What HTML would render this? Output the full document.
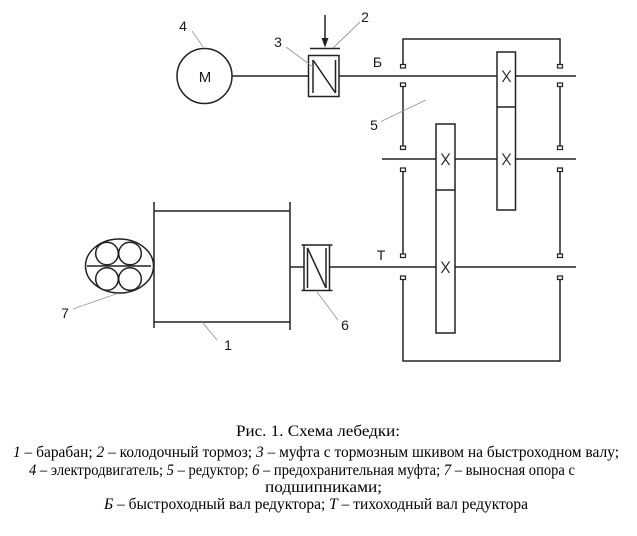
<!DOCTYPE html>
<html><head><meta charset="utf-8"><style>
html,body{margin:0;padding:0;background:#fff;}
svg{display:block;}
</style></head><body>
<svg width="637" height="536" viewBox="0 0 637 536" xmlns="http://www.w3.org/2000/svg">
<g stroke="#222" stroke-width="1.5" fill="none">
  <!-- motor -->
  <circle cx="204.5" cy="76" r="27.5"/>
  <line x1="232" y1="76" x2="309" y2="76"/>
  <!-- coupling 3 -->
  <rect x="308.5" y="55.5" width="30.5" height="41"/>
  <line x1="313" y1="60" x2="313" y2="93"/>
  <line x1="313" y1="60" x2="335.5" y2="93"/>
  <line x1="335.5" y1="60" x2="335.5" y2="93"/>
  <line x1="310" y1="48.5" x2="340" y2="48.5"/>
  <line x1="325" y1="15" x2="325" y2="41"/>
  <!-- shaft B -->
  <line x1="339" y1="76" x2="576" y2="76"/>
  <!-- middle shaft -->
  <line x1="382" y1="159" x2="576" y2="159"/>
  <!-- shaft T -->
  <line x1="290" y1="267" x2="304" y2="267"/>
  <line x1="329.5" y1="267" x2="576" y2="267"/>
  <!-- drum -->
  <line x1="154" y1="202" x2="154" y2="328"/>
  <line x1="290" y1="202" x2="290" y2="330"/>
  <line x1="154" y1="211" x2="290" y2="211"/>
  <line x1="154" y1="322" x2="290" y2="322"/>
  <!-- support 7 -->
  <ellipse cx="119.5" cy="266" rx="34" ry="27"/>
  <line x1="87" y1="266" x2="151" y2="266"/>
  <circle cx="107" cy="253.5" r="11.3"/>
  <circle cx="130" cy="253.5" r="11.3"/>
  <circle cx="107" cy="279" r="11.3"/>
  <circle cx="130" cy="279" r="11.3"/>
  <!-- coupling 6 -->
  <line x1="301.5" y1="245" x2="332.5" y2="245"/>
  <line x1="301.5" y1="290.5" x2="332.5" y2="290.5"/>
  <line x1="304" y1="245" x2="304" y2="290.5"/>
  <line x1="329.5" y1="245" x2="329.5" y2="290.5"/>
  <line x1="307.5" y1="248" x2="307.5" y2="288"/>
  <line x1="307.5" y1="248" x2="326" y2="288"/>
  <line x1="326" y1="248" x2="326" y2="288"/>
  <!-- housing frame -->
  <polyline points="403,64 403,39 560,39 560,64"/>
  <polyline points="403,279 403,361 560,361 560,279"/>
  <line x1="403" y1="86" x2="403" y2="146"/>
  <line x1="560" y1="86" x2="560" y2="146"/>
  <line x1="403" y1="171" x2="403" y2="254"/>
  <line x1="560" y1="171" x2="560" y2="254"/>
</g>
<!-- arrowhead -->
<polygon points="321.5,38 328.5,38 325,47.5" fill="#222"/>
<!-- bearings -->
<g stroke="#222" stroke-width="1.2" fill="#fff">
  <rect x="400.5" y="64.5" width="5" height="3.5"/>
  <rect x="400.5" y="83" width="5" height="3.5"/>
  <rect x="557.5" y="64.5" width="5" height="3.5"/>
  <rect x="557.5" y="83" width="5" height="3.5"/>
  <rect x="400.5" y="146" width="5" height="3.5"/>
  <rect x="400.5" y="168" width="5" height="3.5"/>
  <rect x="557.5" y="146" width="5" height="3.5"/>
  <rect x="557.5" y="168" width="5" height="3.5"/>
  <rect x="400.5" y="254" width="5" height="3.5"/>
  <rect x="400.5" y="276" width="5" height="3.5"/>
  <rect x="557.5" y="254" width="5" height="3.5"/>
  <rect x="557.5" y="276" width="5" height="3.5"/>
</g>
<!-- gears -->
<g stroke="#222" stroke-width="1.5" fill="#fff">
  <rect x="497" y="52" width="18.5" height="158"/>
  <rect x="436" y="124" width="19" height="209"/>
</g>
<g stroke="#222" stroke-width="1.5">
  <line x1="497" y1="107" x2="515.5" y2="107"/>
  <line x1="436" y1="190" x2="455" y2="190"/>
</g>
<g stroke="#222" stroke-width="1.1">
  <path d="M502.5 70.5 L510.5 82 M510.5 70.5 L502.5 82"/>
  <path d="M502.5 153.5 L510.5 165 M510.5 153.5 L502.5 165"/>
  <path d="M441.5 153.5 L449.5 165 M449.5 153.5 L441.5 165"/>
  <path d="M441.5 261.5 L449.5 273 M449.5 261.5 L441.5 273"/>
</g>
<!-- leader lines -->
<g stroke="#999" stroke-width="0.9">
  <line x1="192" y1="31" x2="203" y2="47"/>
  <line x1="286" y1="47" x2="313" y2="67"/>
  <line x1="360" y1="22" x2="333" y2="48"/>
  <line x1="381" y1="121.5" x2="426" y2="100"/>
  <line x1="73" y1="309" x2="116" y2="294"/>
  <line x1="202" y1="322" x2="217" y2="340"/>
  <line x1="317" y1="292" x2="338" y2="320"/>
</g>
<!-- labels -->
<g font-family="Liberation Sans, sans-serif" font-size="14" fill="#1a1a1a" text-anchor="middle">
  <text x="183" y="31">4</text>
  <text x="278" y="47">3</text>
  <text x="365" y="22">2</text>
  <text x="374" y="130">5</text>
  <text x="65" y="318">7</text>
  <text x="228" y="350">1</text>
  <text x="345" y="330">6</text>
  <text x="377.5" y="67">Б</text>
  <text x="381" y="260">Т</text>
  <text x="205" y="82" font-size="15">М</text>
</g>
<!-- caption -->
<g font-family="Liberation Serif, serif" font-size="16" fill="#000">
  <text x="236" y="436" textLength="164" lengthAdjust="spacingAndGlyphs">Рис. 1. Схема  лебедки:</text>
  <text x="13" y="457" textLength="606" lengthAdjust="spacingAndGlyphs"><tspan font-style="italic">1</tspan> – барабан; <tspan font-style="italic">2</tspan> – колодочный тормоз; <tspan font-style="italic">3</tspan> – муфта с тормозным шкивом на быстроходном валу;</text>
  <text x="29" y="475" textLength="546" lengthAdjust="spacingAndGlyphs"><tspan font-style="italic">4</tspan> – электродвигатель; <tspan font-style="italic">5</tspan> – редуктор; <tspan font-style="italic">6</tspan> – предохранительная муфта; <tspan font-style="italic">7</tspan> – выносная опора с</text>
  <text x="265" y="492" textLength="117" lengthAdjust="spacingAndGlyphs">подшипниками;</text>
  <text x="104" y="509" textLength="424" lengthAdjust="spacingAndGlyphs"><tspan font-style="italic">Б</tspan> – быстроходный вал редуктора; <tspan font-style="italic">Т</tspan> – тихоходный вал редуктора</text>
</g>
</svg>
</body></html>
